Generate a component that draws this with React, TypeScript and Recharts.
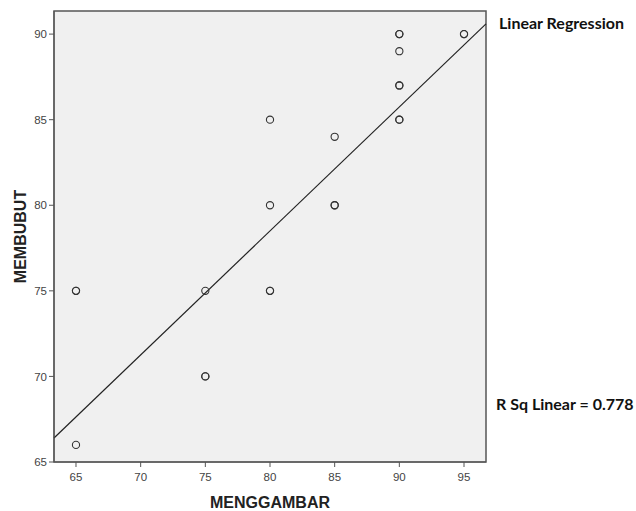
import { ScatterChart, Scatter, XAxis, YAxis, ReferenceArea, ReferenceLine, Label } from 'recharts';

// observations (repeats drawn on top of each other, like SPSS darker markers)
const menggambar = [65, 65, 65, 75, 75, 75, 80, 80, 80, 80, 85, 85, 85, 90, 90, 90, 90, 90, 90, 90, 95, 95];
const membubut = [75, 75, 66, 75, 70, 70, 85, 80, 75, 75, 84, 80, 80, 90, 90, 89, 87, 87, 85, 85, 90, 90];

const xTicks = [65, 70, 75, 80, 85, 90, 95];
const yTicks = [65, 70, 75, 80, 85, 90];
const xDomain = [63.3, 96.7];
const yDomain = [65, 91.35];

// fitted line end points
const fitX = [63.3, 96.7];
const fitY = [66.4, 90.6];

const points = menggambar.map((x, i) => ({ x, y: membubut[i] }));

const Ring = (props: any) => {
  const { cx, cy } = props;
  return <circle cx={cx} cy={cy} r={3.6} fill="none" stroke="#333" strokeWidth={1.1} />;
};

const tickStyle = { fontSize: 11.5, fill: '#444', fontFamily: 'Liberation Sans, Arial, sans-serif' };
const titleStyle = { fontSize: 16, fontWeight: 'bold', fill: '#222', fontFamily: 'Liberation Sans, Arial, sans-serif' };
const noteStyle = { position: 'absolute' as const, fontFamily: 'Lato, sans-serif', fontWeight: 'bold', fontSize: 16, color: '#111', whiteSpace: 'nowrap' as const };

export default function App() {
  return (
    <div style={{ position: 'absolute', left: 0, top: 0, width: 636, height: 511, background: '#fff' }}>
      <ScatterChart width={636} height={511} margin={{ top: 11, right: 150, bottom: 9, left: 14 }}>
        <XAxis
          type="number"
          dataKey="x"
          domain={xDomain}
          ticks={xTicks}
          allowDataOverflow
          height={40}
          tick={{ ...tickStyle, dy: 4 }}
          tickSize={5}
          stroke="#555"
        >
          <Label value="MENGGAMBAR" position="insideBottom" offset={-6} style={titleStyle} />
        </XAxis>
        <YAxis
          type="number"
          dataKey="y"
          domain={yDomain}
          ticks={yTicks}
          allowDataOverflow
          width={40}
          tick={tickStyle}
          tickSize={5}
          stroke="#555"
        >
          <Label value="MEMBUBUT" angle={-90} position="insideLeft" offset={6} style={{ ...titleStyle, textAnchor: 'middle' }} />
        </YAxis>
        <ReferenceArea x1={xDomain[0]} x2={xDomain[1]} y1={yDomain[0]} y2={yDomain[1]} fill="#f0f0f0" fillOpacity={1} stroke="#555" strokeWidth={1.5} />
        <ReferenceLine
          segment={[{ x: fitX[0], y: fitY[0] }, { x: fitX[1], y: fitY[1] }]}
          stroke="#222"
          strokeWidth={1.2}
        />
        <Scatter data={points} shape={<Ring />} isAnimationActive={false} />
      </ScatterChart>
      <div style={{ ...noteStyle, left: 499, top: 13 }}>Linear Regression</div>
      <div style={{ ...noteStyle, left: 496, top: 394 }}>R Sq Linear = 0.778</div>
    </div>
  );
}
